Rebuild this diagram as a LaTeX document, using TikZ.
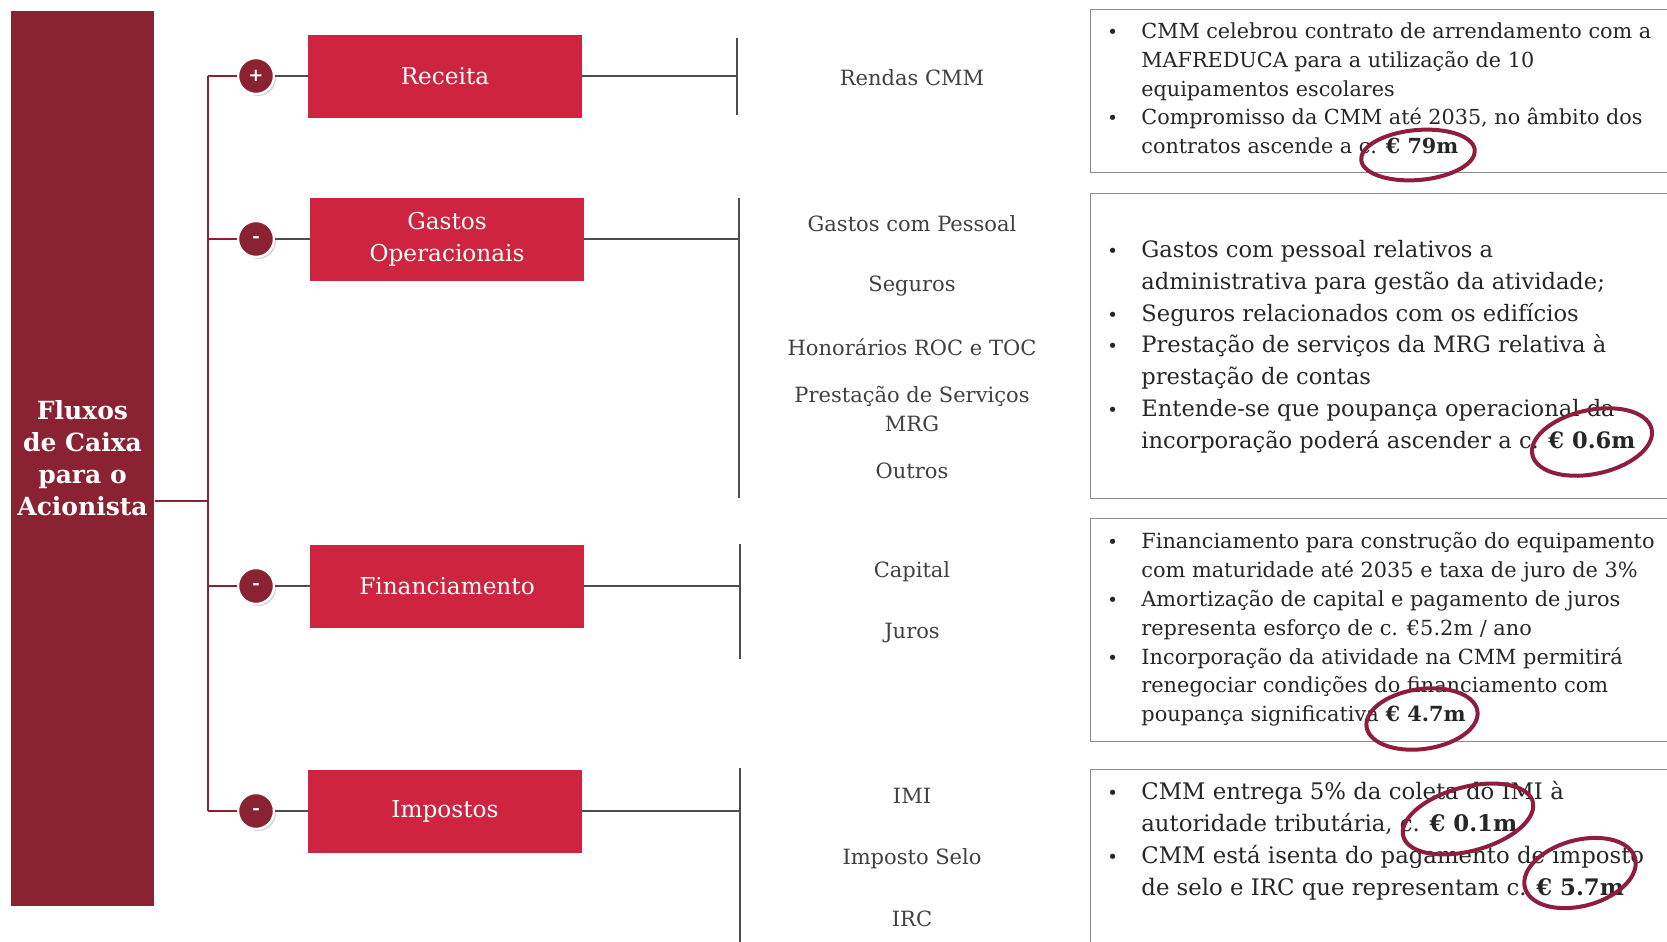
\documentclass[tikz,border=0pt]{standalone}
\usepackage{fontspec}
\setmainfont{DejaVu Serif}
\usetikzlibrary{shadows}

\definecolor{bordo}{HTML}{8A2232}
\definecolor{carmim}{HTML}{CF2440}
\definecolor{traco}{HTML}{4D4D4D}
\definecolor{tinta}{HTML}{8E1E3C}

\newcommand\penloop[5]{\draw[caneta, shift={(#1,#2)}, rotate=#5] (155:#3 and #4) arc[start angle=155, end angle=545, x radius=#3, y radius=#4];}
\newcommand\bl{\makebox[17pt][l]{\small\textbullet}}

\tikzset{
  fluxo/.style={fill=bordo, minimum width=71.5pt, minimum height=447.5pt, text=white, font=\fontsize{12.5}{16}\selectfont\bfseries, align=center},
  sinal/.style={circle, fill=bordo, draw=white, line width=1.2pt, minimum size=18pt, inner sep=0pt, text=white, font=\fontsize{9}{9}\selectfont\bfseries, drop shadow={shadow xshift=1pt, shadow yshift=-1pt, opacity=.35}},
  rubrica/.style={fill=carmim, minimum width=137pt, minimum height=41.5pt, text=white, font=\fontsize{11.6}{16}\selectfont, align=center},
  rotulo/.style={text=black!75, font=\fontsize{10.5}{14.5}\selectfont, align=center},
  nota/.style={draw=black!45, line width=0.6pt, anchor=north west, minimum width=310pt, inner sep=0pt},
  texto/.style={anchor=west, inner sep=0pt, text=black!85},
  tronco/.style={draw=bordo, line width=1pt},
  ramo/.style={draw=traco, line width=0.8pt},
  caneta/.style={draw=tinta, line width=2pt, line cap=round},
}

\begin{document}
\begin{tikzpicture}[x=0.5pt,y=-0.5pt]
  \useasboundingbox (0,0) rectangle (1667,942);

  \node[fluxo] at (82.5,458.5) (fluxo){Fluxos\\de Caixa\\para o\\Acionista};

  \node[sinal] at (256,76) (sR){+};
  \node[sinal] at (256,239) (sG){-};
  \node[sinal] at (256,586) (sF){-};
  \node[sinal] at (256,811) (sI){-};

  \node[rubrica] at (445,76) (rec){Receita};
  \node[rubrica] at (447,239) (gas){Gastos\\Operacionais};
  \node[rubrica] at (447,586) (fin){Financiamento};
  \node[rubrica] at (445,811) (imp){Impostos};

  \coordinate (jF) at (208,501);
  \coordinate (tR) at (208,76);
  \coordinate (tG) at (208,239);
  \coordinate (tF) at (208,586);
  \coordinate (tI) at (208,811);
  \coordinate (bR) at (737,76);
  \coordinate (bG) at (739,239);
  \coordinate (bF) at (740,586);
  \coordinate (bI) at (740,811);

  \draw[tronco] (fluxo.east |- jF) -- (jF);
  \draw[tronco] (tR) -- (tI);
  \draw[tronco] (tR) -- (sR) (tG) -- (sG) (tF) -- (sF) (tI) -- (sI);
  \draw[ramo] (sR) -- (rec) (sG) -- (gas) (sF) -- (fin) (sI) -- (imp);
  \draw[ramo] (rec) -- (bR) (gas) -- (bG) (fin) -- (bF) (imp) -- (bI);
  \draw[ramo] (737,38) -- (737,115);
  \draw[ramo] (739,198) -- (739,498);
  \draw[ramo] (740,544) -- (740,659);
  \draw[ramo] (740,768) -- (740,945);

  \node[rotulo] at (912,78) (rendas){Rendas CMM};
  \node[rotulo] at (912,224) (pessoal){Gastos com Pessoal};
  \node[rotulo] at (912,286) (seguros){Seguros};
  \node[rotulo] at (912,347) (honor){Honorários ROC e TOC};
  \node[rotulo] at (912,408.5) (servicos){Prestação de Serviços\\MRG};
  \node[rotulo] at (912,471) (outros){Outros};
  \node[rotulo] at (912,572) (capital){Capital};
  \node[rotulo] at (912,633) (juros){Juros};
  \node[rotulo] at (912,796) (imi){IMI};
  \node[rotulo] at (912,859) (selo){Imposto Selo};
  \node[rotulo] at (912,919) (irc){IRC};

  \node[nota, minimum height=81.75pt] at (1090,8.5) (n1){};
  \node[nota, minimum height=152.5pt] at (1090,193) (n2){};
  \node[nota, minimum height=111.5pt] at (1090,518) (n3){};
  \node[nota, minimum height=100pt] at (1090,769) (n4){};

  \node[texto, font=\fontsize{10.37}{14.35}\selectfont] at (1107,90.5) (t1){%
    \begin{tabular}{@{}l@{}l@{}}
      \bl & CMM celebrou contrato de arrendamento com a\\
          & MAFREDUCA para a utilização de 10\\
          & equipamentos escolares\\
      \bl & Compromisso da CMM até 2035, no âmbito dos\\
          & contratos ascende a c. \textbf{€ 79m}
    \end{tabular}};
  \node[texto, font=\fontsize{11.3}{15.9}\selectfont] at (1107,346.5) (t2){%
    \begin{tabular}{@{}l@{}l@{}}
      \bl & Gastos com pessoal relativos a\\
          & administrativa para gestão da atividade;\\
      \bl & Seguros relacionados com os edifícios\\
      \bl & Prestação de serviços da MRG relativa à\\
          & prestação de contas\\
      \bl & Entende-se que poupança operacional da\\
          & incorporação poderá ascender a c. \textbf{€ 0.6m}
    \end{tabular}};
  \node[texto, font=\fontsize{10.43}{14.4}\selectfont] at (1107,629.5) (t3){%
    \begin{tabular}{@{}l@{}l@{}}
      \bl & Financiamento para construção do equipamento\\
          & com maturidade até 2035 e taxa de juro de 3\%\\
      \bl & Amortização de capital e pagamento de juros\\
          & representa esforço de c. €5.2m / ano\\
      \bl & Incorporação da atividade na CMM permitirá\\
          & renegociar condições do financiamento com\\
          & poupança significativa \textbf{€ 4.7m}
    \end{tabular}};
  \node[texto, font=\fontsize{11.4}{16}\selectfont] at (1107,841) (t4){%
    \begin{tabular}{@{}l@{}l@{}}
      \bl & CMM entrega 5\% da coleta do IMI à\\
          & autoridade tributária, c. \textbf{€ 0.1m}\\
      \bl & CMM está isenta do pagamento de imposto\\
          & de selo e IRC que representam c. \textbf{€ 5.7m}
    \end{tabular}};

  \penloop{1418}{155}{57}{25}{5}
  \penloop{1592}{442}{61}{32}{12}
  \penloop{1422}{719}{56}{30}{8}
  \penloop{1468}{819}{67}{32}{15}
  \penloop{1580}{873}{57}{33}{15}
\end{tikzpicture}
\end{document}
